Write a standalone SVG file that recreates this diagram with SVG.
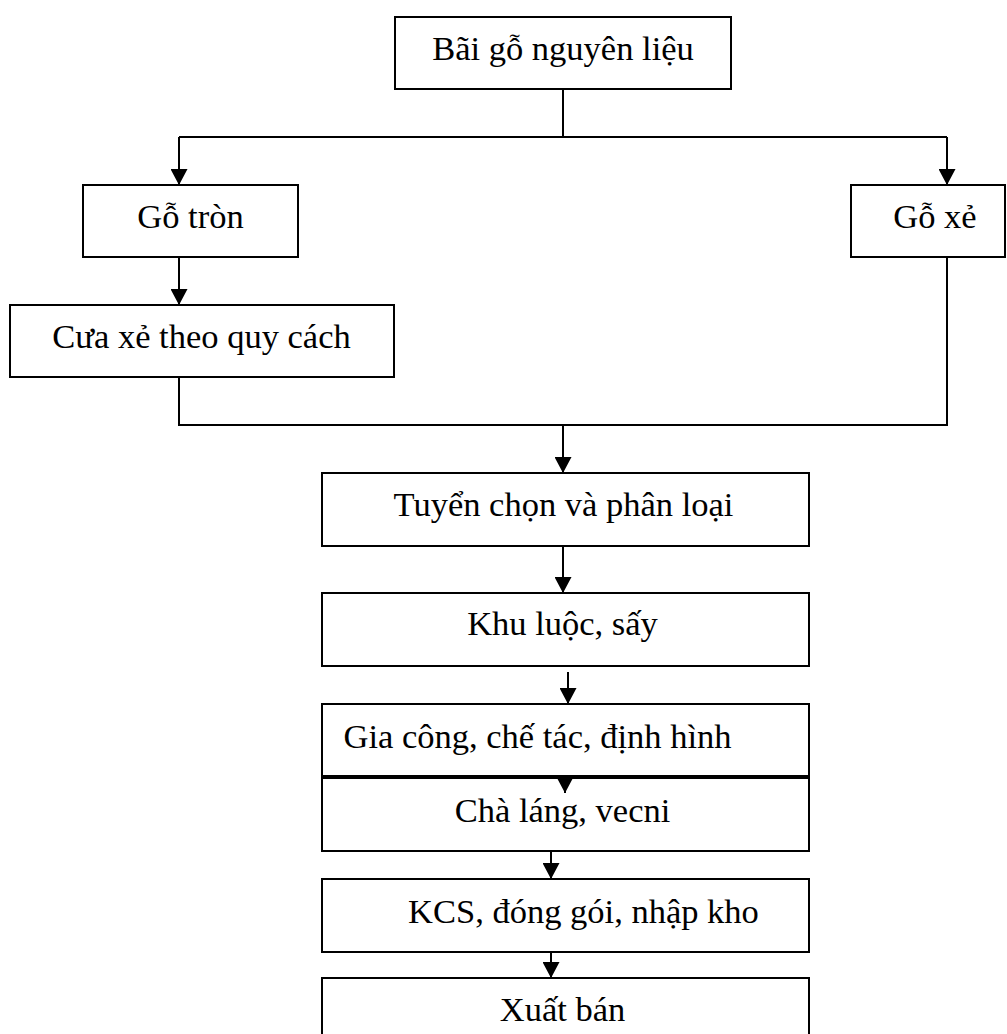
<svg xmlns="http://www.w3.org/2000/svg" width="1007" height="1034" viewBox="0 0 1007 1034">
  <style>
    .box { fill: #ffffff; stroke: #000000; stroke-width: 2; }
    .lbl { font-family: "Liberation Serif", "Times New Roman", serif; font-size: 34.5px; fill: #000000; text-anchor: middle; }
    .wire { fill: none; stroke: #000000; stroke-width: 2; }
  </style>
  <defs>
    <marker id="arrow" markerUnits="userSpaceOnUse" markerWidth="16" markerHeight="17" viewBox="0 0 16 17" refX="16" refY="8.5" orient="auto">
      <path d="M0,0 L16,8.5 L0,17 z" fill="#000000"/>
    </marker>
  </defs>
  <rect width="1007" height="1034" fill="#ffffff"/>

  <g id="bai-go">
    <rect class="box" x="395" y="17" width="336" height="72"/>
    <text class="lbl" x="563" y="59.5">Bãi gỗ nguyên liệu</text>
  </g>
  <g id="go-tron">
    <rect class="box" x="83" y="185" width="215" height="72"/>
    <text class="lbl" x="190.5" y="227.5">Gỗ tròn</text>
  </g>
  <g id="go-xe">
    <rect class="box" x="851" y="185" width="154" height="72"/>
    <text class="lbl" x="935" y="227.5">Gỗ xẻ</text>
  </g>
  <g id="cua-xe">
    <rect class="box" x="10" y="305" width="384" height="72"/>
    <text class="lbl" x="201.5" y="347.5">Cưa xẻ theo quy cách</text>
  </g>
  <g id="tuyen-chon">
    <rect class="box" x="322" y="473" width="487" height="73"/>
    <text class="lbl" x="563.5" y="516">Tuyển chọn và phân loại</text>
  </g>
  <g id="khu-luoc">
    <rect class="box" x="322" y="593" width="487" height="73"/>
    <text class="lbl" x="562.5" y="635">Khu luộc, sấy</text>
  </g>
  <g id="gia-cong">
    <rect class="box" x="322" y="704" width="487" height="72"/>
    <text class="lbl" x="537.5" y="747.5">Gia công, chế tác, định hình</text>
  </g>
  <g id="cha-lang">
    <rect class="box" x="322" y="778" width="487" height="73"/>
    <text class="lbl" x="562.5" y="821.5">Chà láng, vecni</text>
  </g>
  <g id="kcs">
    <rect class="box" x="322" y="879" width="487" height="73"/>
    <text class="lbl" x="583.5" y="922.5">KCS, đóng gói, nhập kho</text>
  </g>
  <g id="xuat-ban">
    <rect class="box" x="322" y="978" width="487" height="70"/>
    <text class="lbl" x="562.5" y="1020.5">Xuất bán</text>
  </g>

  <!-- connectors, drawn on top so the short arrow into "Chà láng" shows -->
  <g id="connectors">
    <path class="wire" d="M563,89 V137 M179,137 H947"/>
    <path class="wire" d="M179,137 V185" marker-end="url(#arrow)"/>
    <path class="wire" d="M947,137 V185" marker-end="url(#arrow)"/>
    <path class="wire" d="M179,257 V305" marker-end="url(#arrow)"/>
    <path class="wire" d="M179,377 V425 H947 V257"/>
    <path class="wire" d="M563,425 V473" marker-end="url(#arrow)"/>
    <path class="wire" d="M563,546 V593" marker-end="url(#arrow)"/>
    <path class="wire" d="M568,672 V704" marker-end="url(#arrow)"/>
    <path class="wire" d="M565,776 V793" marker-end="url(#arrow)"/>
    <path class="wire" d="M551,851 V879" marker-end="url(#arrow)"/>
    <path class="wire" d="M551,952 V978" marker-end="url(#arrow)"/>
  </g>
</svg>
